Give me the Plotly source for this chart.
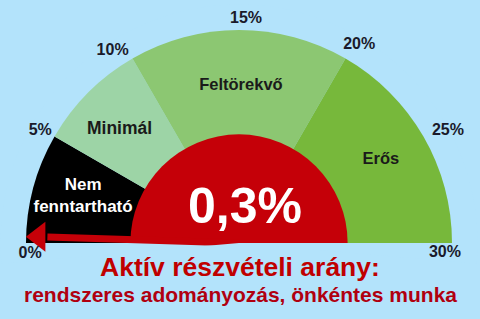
import math
import plotly.graph_objects as go

# ---- data ----
band_names = ["Nem<br>fenntartható", "Minimál", "Feltörekvő", "Erős"]
band_start = [0, 5, 10, 20]
band_end = [5, 10, 20, 30]
band_colors = ["#000000", "#9dd4a6", "#8cc772", "#77b83b"]
band_text_colors = ["#ffffff", "#1a1a1a", "#1a1a1a", "#1a1a1a"]
tick_values = [0, 5, 10, 15, 20, 25, 30]
tick_labels = ["0%", "5%", "10%", "15%", "20%", "25%", "30%"]
value = 0.3
value_label = "0,3%"
max_value = 30
title_line1 = "Aktív részvételi arány:"
title_line2 = "rendszeres adományozás, önkéntes munka"

RED = "#c50008"
BG = "#b3e3fb"
FONT = "Liberation Sans, Arial, sans-serif"

# ---- layout styling (label radii/angle nudges) ----
R_MAX = 1.12
SECTOR_PAD = 5
band_label_r = [0.763, 0.772, 0.737, 0.772]
band_label_dtheta = [1.4, -1.6, 0.7, -0.3]
tick_label_r = [0.982, 1.07, 1.078, 1.052, 1.089, 1.113, 0.968]
tick_label_dtheta = [-3.0, -0.7, -3.4, 1.8, 1.2, 1.8, 2.8]


def to_theta(v):
    return v / max_value * 180.0


fig = go.Figure()

# bands
fig.add_trace(go.Barpolar(
    r=[1.0] * len(band_start),
    base=[0] * len(band_start),
    theta=[to_theta((s + e) / 2) for s, e in zip(band_start, band_end)],
    width=[to_theta(e - s) for s, e in zip(band_start, band_end)],
    marker=dict(color=band_colors, line=dict(width=0)),
    hoverinfo="skip",
))

# needle shaft
th = to_theta(value)
fig.add_trace(go.Scatterpolar(
    r=[0, 0.9], theta=[th, th], mode="lines",
    line=dict(color=RED, width=7), hoverinfo="skip", cliponaxis=False,
))
# needle head
fig.add_trace(go.Scatterpolar(
    r=[0.94], theta=[th], mode="markers",
    marker=dict(symbol="triangle-left", size=26, color=RED, line=dict(width=0)),
    hoverinfo="skip", cliponaxis=False,
))

# inner red half disc
fig.add_trace(go.Barpolar(
    r=[0.51], base=[0], theta=[90], width=[180],
    marker=dict(color=RED, line=dict(width=0)), hoverinfo="skip",
))

# value text
fig.add_trace(go.Scatterpolar(
    r=[0.153], theta=[100.6], mode="text", text=[value_label],
    textfont=dict(size=50, color="#ffffff", family=FONT, weight="bold"),
    hoverinfo="skip", cliponaxis=False,
))

# band labels
fig.add_trace(go.Scatterpolar(
    r=band_label_r,
    theta=[to_theta((s + e) / 2) + d for s, e, d in zip(band_start, band_end, band_label_dtheta)],
    mode="text", text=band_names,
    textfont=dict(size=[17, 17.5, 16.5, 16.5], color=band_text_colors, family=FONT, weight="bold"),
    hoverinfo="skip", cliponaxis=False,
))

# tick labels
fig.add_trace(go.Scatterpolar(
    r=tick_label_r,
    theta=[to_theta(v) + d for v, d in zip(tick_values, tick_label_dtheta)],
    mode="text", text=tick_labels,
    textfont=dict(size=16, color="#1a1a2a", family=FONT, weight="bold"),
    hoverinfo="skip", cliponaxis=False,
))

# polar domain: centre (239, 243) px, unit radius 213 px
CX, CY, R1 = 239, 243, 213
W, H = 480, 319
Rp = R1 * R_MAX
dom_x = [(CX - Rp) / W, (CX + Rp) / W]
dom_y = [1 - (CY + Rp * math.sin(math.radians(SECTOR_PAD))) / H, 1 - (CY - Rp) / H]

fig.update_layout(
    width=W, height=H,
    margin=dict(l=0, r=0, t=0, b=0),
    paper_bgcolor=BG, plot_bgcolor=BG,
    showlegend=False,
    polar=dict(
        domain=dict(x=dom_x, y=dom_y),
        sector=[-SECTOR_PAD, 180 + SECTOR_PAD],
        bgcolor=BG,
        hole=0,
        bargap=0,
        radialaxis=dict(range=[0, R_MAX], visible=False),
        angularaxis=dict(rotation=180, direction="clockwise", visible=False),
    ),
    annotations=[
        dict(text=title_line1, x=0.5, y=1 - 267 / H, xref="paper", yref="paper",
             showarrow=False, xanchor="center", yanchor="middle",
             font=dict(size=26.5, color="#c00000", family=FONT, weight="bold")),
        dict(text=title_line2, x=0.5, y=1 - 294.5 / H, xref="paper", yref="paper",
             showarrow=False, xanchor="center", yanchor="middle",
             font=dict(size=21, color="#b00010", family=FONT, weight="bold")),
    ],
)

fig.write_html("out.html")
